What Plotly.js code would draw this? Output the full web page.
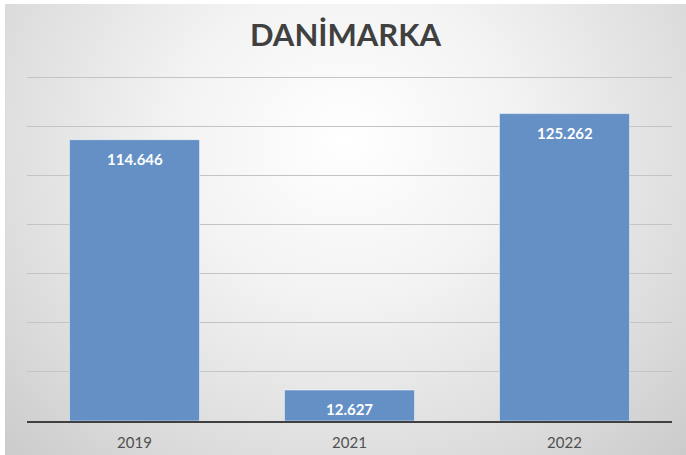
<!DOCTYPE html>
<html>
<head>
<meta charset="utf-8">
<script src="https://cdn.plot.ly/plotly-3.0.1.min.js"></script>
<style>
  body { margin: 0; background: #ffffff; }
  #chart {
    position: absolute; left: 5px; top: 4px; width: 681px; height: 451px;
    background: radial-gradient(ellipse at 50% 30%, #ffffff 0%, #f3f3f3 35%, #dcdcdc 75%, #cbcbcb 100%);
  }
</style>
</head>
<body>
<div id="chart"></div>
<script>
// Danimarka - yearly values
var years = ["2019", "2021", "2022"];
var values = [114646, 12627, 125262];

// turkish style thousand separator
function fmt(v) {
  return String(v).replace(/\B(?=(\d{3})+(?!\d))/g, ".");
}

var trace = {
  x: years,
  y: values,
  type: "bar",
  marker: { color: "#6490c6", line: { color: "rgba(255,255,255,0.5)", width: 1 } },
  hoverinfo: "none"
};

// value labels just under the top of each bar
var labels = years.map((yr, i) => ({
  x: i,
  y: values[i],
  xref: "x",
  yref: "y",
  text: "<b>" + fmt(values[i]) + "</b>",
  showarrow: false,
  yanchor: "middle",
  yshift: -19,
  font: { family: "Lato, sans-serif", size: 15, color: "#ffffff" }
}));

var layout = {
  width: 681,
  height: 451,
  margin: { l: 22, r: 14, t: 71, b: 34 },
  paper_bgcolor: "rgba(0,0,0,0)",
  plot_bgcolor: "rgba(0,0,0,0)",
  title: {
    text: "<b>DANİMARKA</b>",
    font: { family: "Lato, sans-serif", size: 31, color: "#404040" },
    x: 0.5, xanchor: "center",
    y: 0.932, yanchor: "middle"
  },
  bargap: 0.395,
  showlegend: false,
  xaxis: {
    type: "category",
    categoryorder: "array",
    categoryarray: years,
    showline: true,
    linecolor: "#404040",
    linewidth: 2,
    ticks: "outside",
    ticklen: 7,
    tickcolor: "rgba(0,0,0,0)",
    tickfont: { family: "Lato, sans-serif", size: 15, color: "#505050" }
  },
  yaxis: {
    range: [0, 141000],
    tick0: 0,
    dtick: 20000,
    showticklabels: false,
    showgrid: true,
    gridcolor: "#c4c4c4",
    gridwidth: 1,
    zeroline: false
  },
  annotations: labels
};

Plotly.newPlot("chart", [trace], layout, { staticPlot: true, displayModeBar: false })
  .catch(e => { document.body.insertAdjacentHTML("beforeend", "<pre>" + e + "</pre>"); });
</script>
</body>
</html>
